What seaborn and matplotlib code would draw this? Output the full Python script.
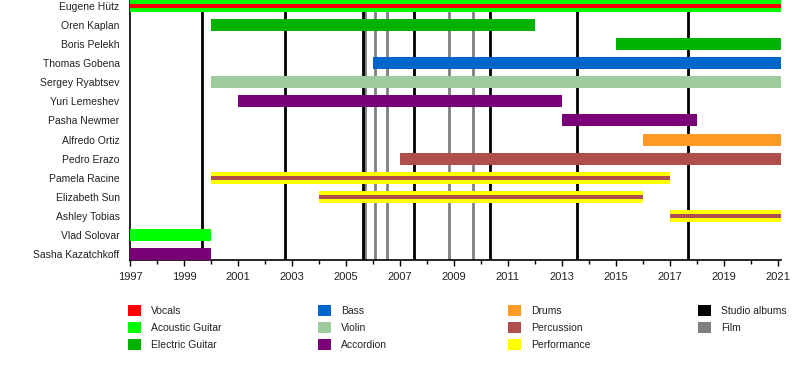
import matplotlib
matplotlib.use("Agg")
import matplotlib.pyplot as plt
from matplotlib.patches import Patch
from matplotlib.ticker import MultipleLocator
import seaborn as sns

# ---------------- data ----------------
members = ["Eugene Hütz", "Oren Kaplan", "Boris Pelekh", "Thomas Gobena",
           "Sergey Ryabtsev", "Yuri Lemeshev", "Pasha Newmer", "Alfredo Ortiz",
           "Pedro Erazo", "Pamela Racine", "Elizabeth Sun", "Ashley Tobias",
           "Vlad Solovar", "Sasha Kazatchkoff"]

END = 2021.12

# full-height bars
bar_member = ["Eugene Hütz", "Oren Kaplan", "Boris Pelekh", "Thomas Gobena",
              "Sergey Ryabtsev", "Yuri Lemeshev", "Pasha Newmer", "Alfredo Ortiz",
              "Pedro Erazo", "Pamela Racine", "Elizabeth Sun", "Ashley Tobias",
              "Vlad Solovar", "Sasha Kazatchkoff"]
bar_start = [1997, 2000, 2015, 2006, 2000, 2001, 2013, 2016, 2007, 2000, 2004, 2017, 1997, 1997]
bar_end = [END, 2012, END, END, END, 2013, 2018, END, END, 2017, 2016, END, 2000, 2000]
bar_role = ["Acoustic Guitar", "Electric Guitar", "Electric Guitar", "Bass",
            "Violin", "Accordion", "Accordion", "Drums", "Percussion",
            "Performance", "Performance", "Performance", "Acoustic Guitar", "Accordion"]

# thin stripes (secondary role)
stripe_member = ["Eugene Hütz", "Pamela Racine", "Elizabeth Sun", "Ashley Tobias"]
stripe_start = [1997, 2000, 2004, 2017]
stripe_end = [END, 2017, 2016, END]
stripe_role = ["Vocals", "Percussion", "Percussion", "Percussion"]

album_years = [1999.68, 2002.75, 2005.63, 2007.52, 2010.33, 2013.55, 2017.66]
film_years = [2005.71, 2006.07, 2006.51, 2008.83, 2009.70]

roles = ["Vocals", "Acoustic Guitar", "Electric Guitar", "Bass", "Violin",
         "Accordion", "Drums", "Percussion", "Performance"]
role_colors = ["#FF0000", "#00FF00", "#00B200", "#0066CC", "#9FCC9F",
               "#7A0078", "#FF9A26", "#B04E4E", "#FFFF00"]
line_labels = ["Studio albums", "Film"]
line_colors = ["#000000", "#808080"]

year_ticks = list(range(1997, 2022, 2))

# ---------------- plot ----------------
sns.set_theme(style="white")
plt.rcParams["font.family"] = ["Liberation Sans", "DejaVu Sans"]

cmap = dict(zip(roles, role_colors))
ypos = {m: i for i, m in enumerate(members)}

fig = plt.figure(figsize=(8, 3.8), dpi=100)
ax = fig.add_axes([130 / 800, 1 - 260 / 380, (781 - 130) / 800, 260 / 380])

for x in film_years:
    ax.axvline(x, color=line_colors[1], lw=2.0, zorder=1)
for x in album_years:
    ax.axvline(x, color=line_colors[0], lw=2.0, zorder=1)

BAR_H = 0.63
STRIPE_H = 0.22
for m, s, e, r in zip(bar_member, bar_start, bar_end, bar_role):
    ax.barh(ypos[m], e - s, left=s, height=BAR_H, color=cmap[r], lw=0, zorder=3)
for m, s, e, r in zip(stripe_member, stripe_start, stripe_end, stripe_role):
    ax.barh(ypos[m], e - s, left=s, height=STRIPE_H, color=cmap[r], lw=0, zorder=4)

ax.set_xlim(1997, END)
ax.set_ylim(len(members) - 1 + BAR_H / 2, -BAR_H / 2)
ax.set_yticks(range(len(members)))
ax.set_yticklabels(members, fontsize=7.5, color="#222222")
ax.set_xticks(year_ticks)
ax.set_xticklabels([str(y) for y in year_ticks], fontsize=8, color="#222222")
ax.xaxis.set_minor_locator(MultipleLocator(1))
ax.tick_params(axis="y", length=0, pad=7.5)
ax.tick_params(axis="x", which="major", length=4, width=1, direction="out",
               color="black", pad=4.5, bottom=True)
ax.tick_params(axis="x", which="minor", length=3, width=1, direction="out",
               color="black", bottom=True)
for side in ["top", "right"]:
    ax.spines[side].set_visible(False)
for side in ["left", "bottom"]:
    ax.spines[side].set_color("black")
    ax.spines[side].set_linewidth(1.2)
ax.grid(False)
ax.set_facecolor("white")

# legend: four columns placed manually
all_labels = roles + line_labels
all_colors = role_colors + line_colors
col_x = [120, 310, 500, 690]
groups = [all_labels[0:3], all_labels[3:6], all_labels[6:9], all_labels[9:11]]
gcolors = [all_colors[0:3], all_colors[3:6], all_colors[6:9], all_colors[9:11]]
for cx, labs, cols in zip(col_x, groups, gcolors):
    handles = [Patch(facecolor=c, edgecolor="none", label=l) for l, c in zip(labs, cols)]
    fig.legend(handles=handles, loc="upper left",
               bbox_to_anchor=(cx / 800, 1 - 297 / 380), frameon=False,
               fontsize=7.5, handlelength=1.25, handleheight=1.25,
               handletextpad=0.9, labelspacing=0.57, borderpad=0.3,
               labelcolor="#222222")

fig.savefig("out.png", dpi=100, facecolor="white")
